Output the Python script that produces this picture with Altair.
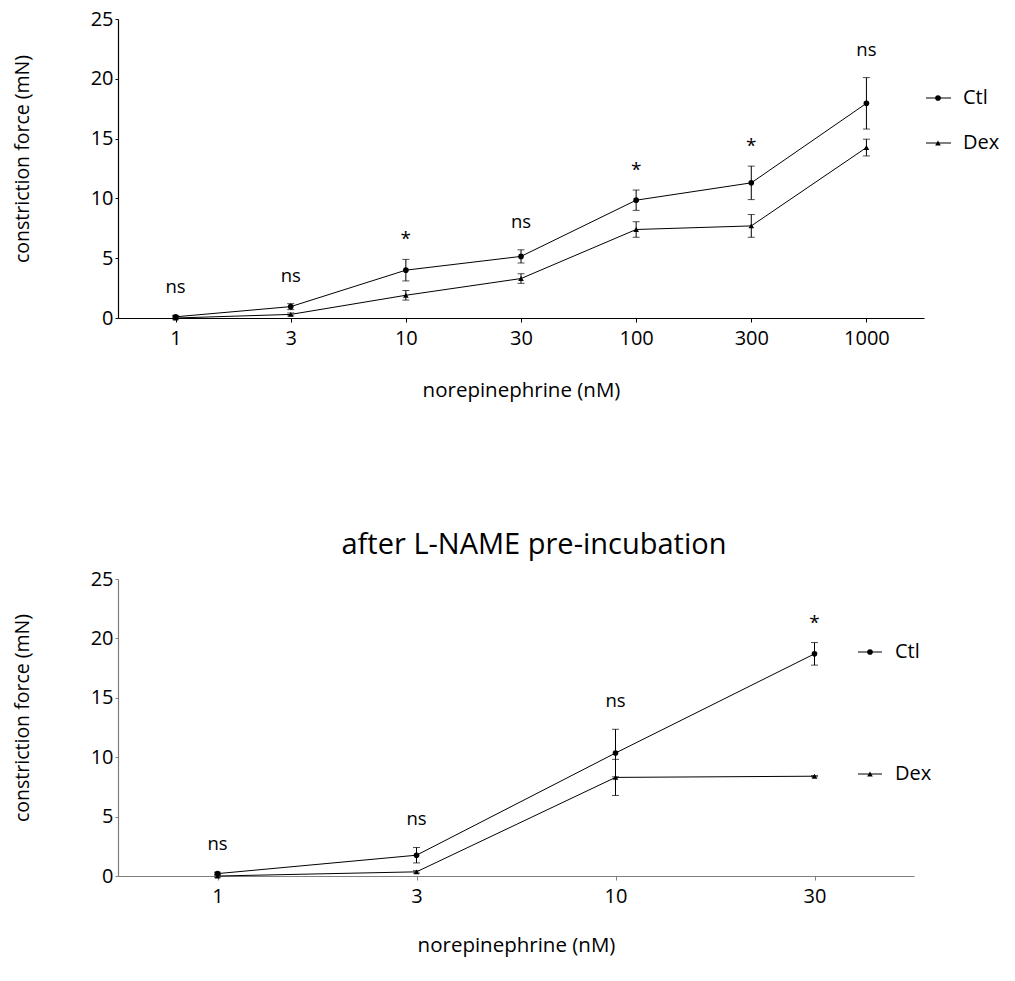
import altair as alt
import pandas as pd

FONT = "Open Sans"

# Concentration-response, untreated vessels
doses_top = ["1", "3", "10", "30", "100", "300", "1000"]
ctl_top = [0.1, 0.95, 4.0, 5.15, 9.85, 11.3, 17.95]
ctl_top_err = [0.12, 0.25, 0.9, 0.55, 0.85, 1.4, 2.15]
dex_top = [0.0, 0.3, 1.9, 3.3, 7.4, 7.7, 14.25]
dex_top_err = [0.1, 0.12, 0.4, 0.4, 0.65, 0.95, 0.7]
sig_top = ["ns", "ns", "*", "ns", "*", "*", "ns"]

# Concentration-response after L-NAME
doses_bot = ["1", "3", "10", "30"]
ctl_bot = [0.2, 1.75, 10.35, 18.7]
ctl_bot_err = [0.12, 0.65, 2.0, 0.95]
dex_bot = [0.0, 0.35, 8.3, 8.4]
dex_bot_err = [0.1, 0.1, 1.52, 0.05]
sig_bot = ["ns", "ns", "ns", "*"]

SERIES = ["Ctl", "Dex"]
SHAPES = ["circle", "triangle-up"]


def panel(doses, ctl, ctl_err, dex, dex_err, sig, width, height, axis_color,
          legend_px, x_title_pad, title=None):
    rows = []
    for d, c, ce, v, ve in zip(doses, ctl, ctl_err, dex, dex_err):
        rows.append(dict(dose=d, series="Ctl", value=c, lo=c - ce, hi=c + ce))
        rows.append(dict(dose=d, series="Dex", value=v, lo=v - ve, hi=v + ve))
    df = pd.DataFrame(rows)
    ann = pd.DataFrame({
        "dose": doses,
        "sig": sig,
        "top": [max(c + ce, v + ve) for c, ce, v, ve in zip(ctl, ctl_err, dex, dex_err)],
    })

    x_scale = alt.Scale(type="point", padding=0.5)
    y_scale = alt.Scale(domain=[0, 25], nice=False)
    x_axis = alt.Axis(
        title="norepinephrine (nM)", labelAngle=0, labelFontSize=20, titleFontSize=20.5,
        labelFont=FONT, titleFont=FONT, titleFontWeight="normal",
        labelColor="black", titleColor="black", domainColor=axis_color,
        tickColor=axis_color, tickSize=4, labelPadding=6, titlePadding=x_title_pad,
        grid=False, domainWidth=1.2, tickWidth=1,
    )
    y_axis = alt.Axis(
        title="constriction force (mN)", values=[0, 5, 10, 15, 20, 25],
        labelFontSize=20, titleFontSize=19.5, labelFont=FONT, titleFont=FONT,
        titleFontWeight="normal", labelColor="black", titleColor="black",
        domainColor=axis_color, tickColor=axis_color, tickSize=3,
        labelPadding=2, titlePadding=58, grid=False, domainWidth=1.2,
        tickWidth=1, titleY=height / 2 - 10,
    )

    base = alt.Chart(df)
    x = alt.X("dose:O", sort=doses, scale=x_scale, axis=x_axis)
    xs = alt.X("dose:O", sort=doses, scale=x_scale)

    lines = base.mark_line(color="black", strokeWidth=1).encode(
        x=x, y=alt.Y("value:Q", scale=y_scale, axis=y_axis), detail="series:N"
    )
    bars = base.mark_rule(color="black", strokeWidth=1).encode(
        x=xs, y=alt.Y("lo:Q", scale=y_scale), y2="hi:Q"
    )
    cap_lo = base.mark_tick(color="black", orient="horizontal", size=7, thickness=1).encode(
        x=xs, y=alt.Y("lo:Q", scale=y_scale)
    )
    cap_hi = base.mark_tick(color="black", orient="horizontal", size=7, thickness=1).encode(
        x=xs, y=alt.Y("hi:Q", scale=y_scale)
    )
    points = base.mark_point(filled=True, color="black", size=32, opacity=1).encode(
        x=xs, y=alt.Y("value:Q", scale=y_scale),
        shape=alt.Shape("series:N", scale=alt.Scale(domain=SERIES, range=SHAPES), legend=None),
    )
    ns_text = alt.Chart(ann).transform_filter(alt.datum.sig == "ns").mark_text(
        font=FONT, fontSize=18.5, color="black", baseline="middle", dy=-28
    ).encode(x=xs, y=alt.Y("top:Q", scale=y_scale), text="sig:N")
    star_text = alt.Chart(ann).transform_filter(alt.datum.sig == "*").mark_text(
        font=FONT, fontSize=19, color="black", baseline="middle", dy=-20
    ).encode(x=xs, y=alt.Y("top:Q", scale=y_scale), text="sig:N")

    layers = [lines, bars, cap_lo, cap_hi, points, ns_text, star_text]

    # hand-placed legend entries
    (lx0, lx1, lpt, ltx), ys = legend_px
    for name, shape, py in zip(SERIES, SHAPES, ys):
        ld = alt.Chart(pd.DataFrame({"series": [name]}))
        layers.append(ld.mark_rule(color="black", strokeWidth=1).encode(
            x=alt.value(lx0), x2=alt.value(lx1), y=alt.value(py)))
        layers.append(ld.mark_point(filled=True, color="black", size=32, opacity=1, shape=shape).encode(
            x=alt.value(lpt), y=alt.value(py)))
        layers.append(ld.mark_text(font=FONT, fontSize=20, color="black", align="left",
                                   baseline="middle").encode(
            x=alt.value(ltx), y=alt.value(py), text="series:N"))

    chart = alt.layer(*layers).properties(width=width, height=height)
    if title:
        chart = chart.properties(title=alt.TitleParams(
            title, font=FONT, fontSize=29, fontWeight="normal", color="black",
            anchor="middle", offset=9, dx=18))
    return chart


top = panel(doses_top, ctl_top, ctl_top_err, dex_top, dex_top_err, sig_top,
            806, 299, "black", ((808, 833, 820, 845), (79, 124)), 32)
bottom = panel(doses_bot, ctl_bot, ctl_bot_err, dex_bot, dex_bot_err, sig_bot,
               796, 297, "#7f7f7f", ((740, 764, 752, 777), (73, 195)), 29,
               title="after L-NAME pre-incubation")

chart = (
    alt.vconcat(top, bottom, spacing=130)
    .properties(padding={"left": 12, "top": 9, "right": 5, "bottom": 5})
    .configure(background="white")
    .configure_view(strokeWidth=0)
)

chart.save("out.html", embed_options={"renderer": "svg", "actions": False})
